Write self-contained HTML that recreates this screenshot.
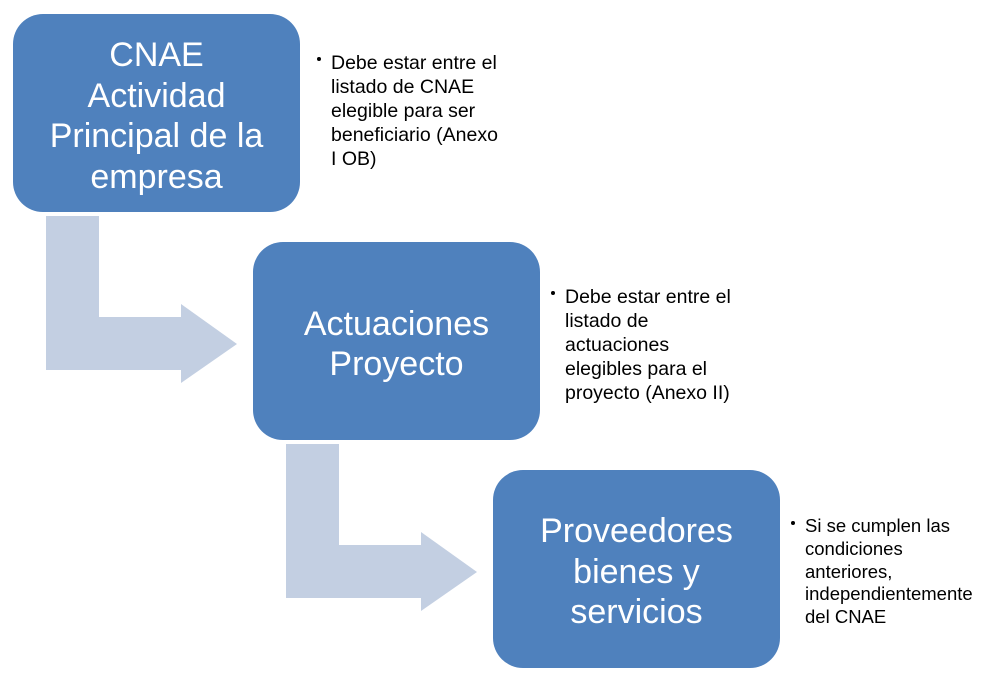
<!DOCTYPE html>
<html><head><style>
body{margin:0;width:994px;height:682px;background:#fff;position:relative;overflow:hidden;font-family:"Liberation Sans",sans-serif}
.box{position:absolute;width:287px;height:198px;box-sizing:border-box;padding-top:6px;background:#4f81bd;border-radius:30px;color:#fff;display:flex;align-items:center;justify-content:center;text-align:center;font-size:34px;line-height:40.5px}
.t{position:absolute;font-size:19.5px;line-height:24px;color:#000;white-space:nowrap}
.t::before{content:"";position:absolute;left:-14px;top:6px;width:4px;height:4px;border-radius:50%;background:#000}
</style></head><body>
<svg width="994" height="682" style="position:absolute;left:0;top:0">
<polygon fill="#c3cfe2" points="46,216 99,216 99,317 181,317 181,304 237,344 181,383 181,370 46,370"/>
<polygon fill="#c3cfe2" points="286,444 339,444 339,545 421,545 421,532 477,572 421,611 421,598 286,598"/>
</svg>
<div class="box" style="left:13px;top:14px">CNAE<br>Actividad<br>Principal de la<br>empresa</div>
<div class="box" style="left:253px;top:242px">Actuaciones<br>Proyecto</div>
<div class="box" style="left:493px;top:470px">Proveedores<br>bienes y<br>servicios</div>
<div class="t" style="left:331px;top:51px">Debe estar entre el<br>listado de CNAE<br>elegible para ser<br>beneficiario (Anexo<br>I OB)</div>
<div class="t" style="left:565px;top:285px">Debe estar entre el<br>listado de<br>actuaciones<br>elegibles para el<br>proyecto (Anexo II)</div>
<div class="t" style="left:805px;top:515px;font-size:18.5px;line-height:22.8px">Si se cumplen las<br>condiciones<br>anteriores,<br>independientemente<br>del CNAE</div>
</body></html>
